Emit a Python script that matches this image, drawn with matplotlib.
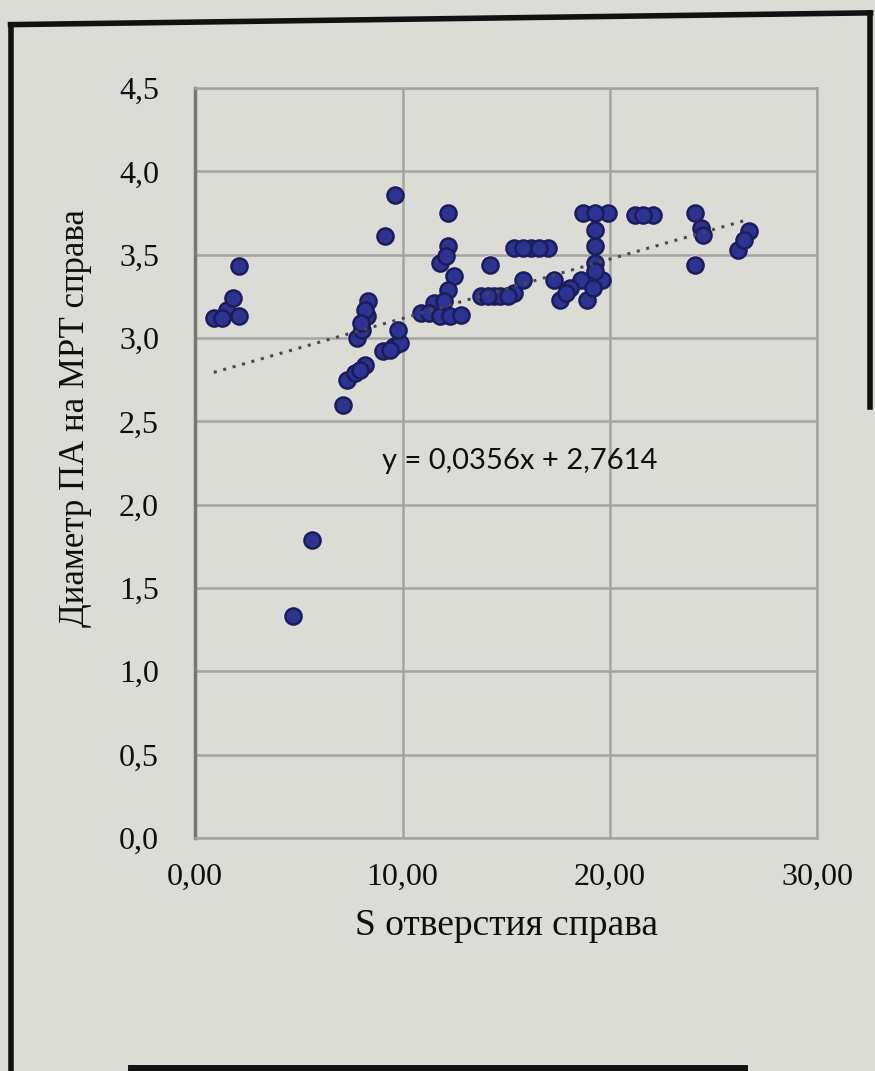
import matplotlib
matplotlib.use("Agg")
import matplotlib.pyplot as plt
import numpy as np
from matplotlib.lines import Line2D

plt.rcParams["font.family"] = ["Liberation Serif", "DejaVu Serif"]

# Data
x_vals = [0.9, 1.55, 1.85, 2.1, 2.1, 1.3,
          4.7, 5.65,
          7.15, 7.3, 7.7, 8.2, 7.95,
          7.8, 8.07, 8.3, 8.36, 8.2, 8.0,
          9.08, 9.57, 9.9, 9.76, 9.4,
          9.18, 9.66,
          12.17, 12.17, 11.8, 12.5, 12.2, 11.5, 10.9, 11.3, 11.8, 12.3, 12.8, 12.0, 12.1,
          14.2, 15.4, 16.2, 17.0, 15.8, 16.6,
          13.8, 14.4, 14.7, 15.4, 15.8, 14.1, 15.1,
          17.3, 17.6, 18.6, 18.9, 19.6, 18.1, 17.9, 19.2,
          19.3, 19.3, 19.3, 18.7, 19.9, 19.3, 19.3,
          21.2, 22.1, 21.6,
          24.1, 24.4, 24.5, 24.1, 26.7, 26.2, 26.45]
y_vals = [3.12, 3.17, 3.24, 3.13, 3.43, 3.12,
          1.33, 1.79,
          2.60, 2.75, 2.79, 2.84, 2.81,
          3.00, 3.05, 3.13, 3.22, 3.17, 3.09,
          2.92, 2.95, 2.97, 3.05, 2.93,
          3.61, 3.86,
          3.75, 3.55, 3.45, 3.37, 3.29, 3.21, 3.15, 3.15, 3.13, 3.13, 3.14, 3.22, 3.49,
          3.44, 3.54, 3.54, 3.54, 3.54, 3.54,
          3.25, 3.25, 3.25, 3.27, 3.35, 3.25, 3.25,
          3.35, 3.23, 3.35, 3.23, 3.35, 3.30, 3.27, 3.30,
          3.45, 3.55, 3.65, 3.75, 3.75, 3.75, 3.40,
          3.74, 3.74, 3.74,
          3.75, 3.66, 3.62, 3.44, 3.64, 3.53, 3.59]

slope = 0.0356
intercept = 2.7614

x_ticks = [0, 10, 20, 30]
x_tick_labels = ["0,00", "10,00", "20,00", "30,00"]
y_ticks = [0.0, 0.5, 1.0, 1.5, 2.0, 2.5, 3.0, 3.5, 4.0, 4.5]
y_tick_labels = ["0,0", "0,5", "1,0", "1,5", "2,0", "2,5", "3,0", "3,5", "4,0", "4,5"]

x_label = "S отверстия справа"
y_label = "Диаметр ПА на МРТ справа"
eq_text = "y = 0,0356x + 2,7614"

bg = "#dcdcd6"
grid_c = "#a3a3a0"
txt_c = "#0e0e0e"

fig = plt.figure(figsize=(8.75, 10.71), dpi=100, facecolor=bg)
ax = fig.add_axes([0.223, 0.2176, 0.711, 0.7002])
ax.set_facecolor(bg)

ax.set_xlim(0, 30)
ax.set_ylim(0, 4.5)
ax.set_xticks(x_ticks, x_tick_labels)
ax.set_yticks(y_ticks, y_tick_labels)

ax.tick_params(axis="both", length=0, labelsize=23, colors=txt_c)
ax.tick_params(axis="x", pad=18)
ax.tick_params(axis="y", pad=26)

ax.grid(True, color=grid_c, linewidth=1.8)
ax.set_axisbelow(True)
for side in ["top", "right", "bottom"]:
    ax.spines[side].set_color(grid_c)
    ax.spines[side].set_linewidth(1.8)
ax.spines["left"].set_color("#767674")
ax.spines["left"].set_linewidth(2.5)

# scatter
ax.scatter(x_vals, y_vals, s=175, color="#ececf4", edgecolors="none", zorder=2)
ax.scatter(x_vals, y_vals, s=135, color="#2c3390", edgecolors="#1a1d5a",
           linewidths=1.8, zorder=3)

# trend line
xs = np.array([min(x_vals), max(x_vals)])
ax.plot(xs, slope * xs + intercept, linestyle=(0, (1, 2.2)), color="#4a4a4a",
        linewidth=2.2, zorder=4)

ax.text(9.0, 2.26, eq_text, fontsize=21, family=["Lato", "DejaVu Sans"],
        color=txt_c, va="center", ha="left", zorder=5)

ax.set_xlabel(x_label, fontsize=27, color=txt_c, labelpad=12)
ax.set_ylabel(y_label, fontsize=25, color=txt_c, labelpad=10)
ax.yaxis.set_label_coords(-0.165, 0.56)

# photo frame
frame = dict(color="#111111", linewidth=4, transform=fig.transFigure)
fig.add_artist(Line2D([0.012, 0.012], [0.0, 0.977], **frame))
fig.add_artist(Line2D([0.012, 0.995], [0.977, 0.988], **frame))
fig.add_artist(Line2D([0.994, 0.994], [0.988, 0.62], **frame))
fig.add_artist(Line2D([0.15, 0.85], [0.003, 0.003], color="#111111", linewidth=5,
                      transform=fig.transFigure))

fig.savefig("out.png", dpi=100, facecolor=bg)
